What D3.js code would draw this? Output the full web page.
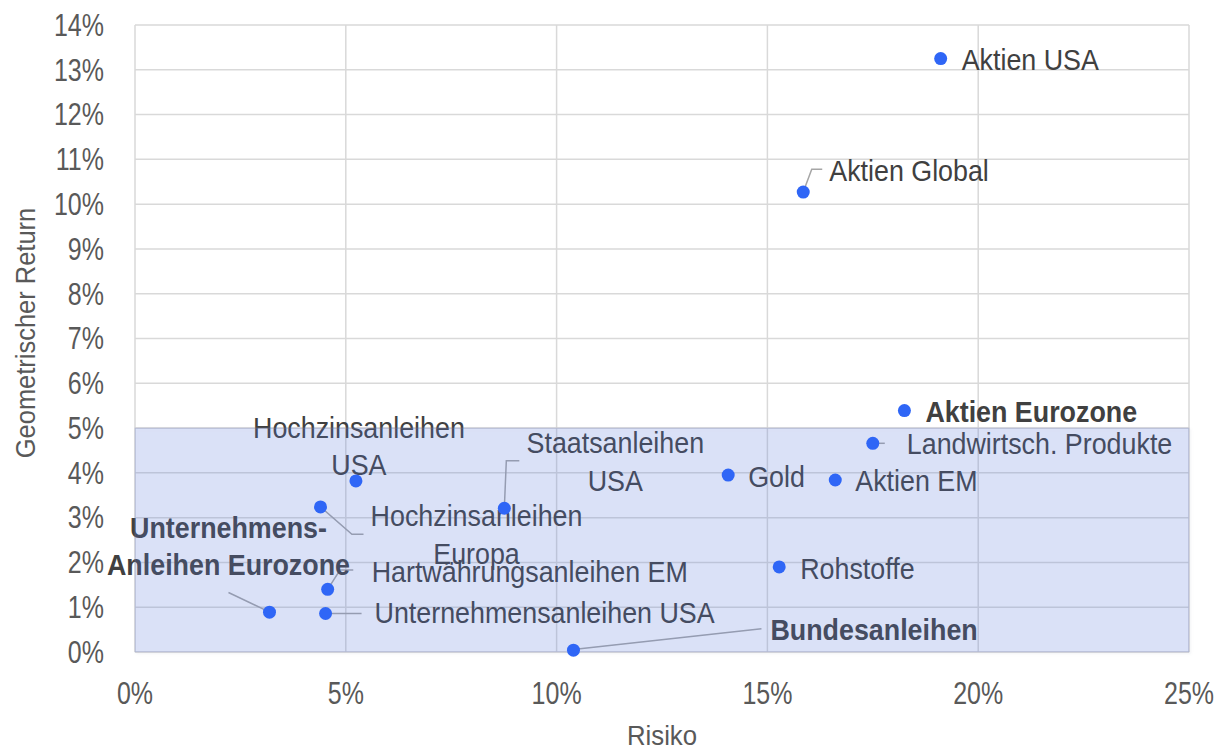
<!DOCTYPE html>
<html>
<head>
<meta charset="utf-8">
<script src="https://cdn.jsdelivr.net/npm/d3@7"></script>
<style>
  html, body { margin: 0; padding: 0; background: #fff; }
  svg { display: block; font-family: "Liberation Sans", Arial, sans-serif; }
</style>
</head>
<body>
<svg id="chart" width="1218" height="751"></svg>
<script>
// --- data ---
const assets = [
  'Aktien USA', 'Aktien Global', 'Aktien Eurozone', 'Landwirtsch. Produkte', 'Gold',
  'Aktien EM', 'Rohstoffe', 'Bundesanleihen', 'Staatsanleihen USA', 'Hochzinsanleihen USA',
  'Hochzinsanleihen Europa', 'Hartwährungsanleihen EM', 'Unternehmensanleihen USA',
  'Unternehmensanleihen Eurozone'
];
const risk = [0.1911, 0.1585, 0.1825, 0.1750, 0.1407, 0.1661, 0.1528, 0.1040, 0.0876, 0.0524,
  0.0440, 0.0457, 0.0452, 0.0319];
const geoReturn = [0.1325, 0.1027, 0.0539, 0.0466, 0.0395, 0.0384, 0.0190, 0.0004, 0.0321, 0.0382,
  0.0324, 0.0140, 0.0086, 0.0089];
const xTicks = [0, 0.05, 0.10, 0.15, 0.20, 0.25];
const yTicks = [0, 0.01, 0.02, 0.03, 0.04, 0.05, 0.06, 0.07, 0.08, 0.09, 0.10, 0.11, 0.12, 0.13, 0.14];
const zoneRisk = [0, 0.25];
const zoneReturn = [0, 0.05];

// label placement relative to each dot (pixels), kept apart from the data
const labelLayout = {
  'Aktien USA': { dx: 21, dy: 11, anchor: 'start', lines: ['Aktien USA'] },
  'Aktien Global': { dx: 26, dy: -11, anchor: 'start', lines: ['Aktien Global'], leader: [[0, 0], [8.5, -22.7], [19, -22.7]] },
  'Aktien Eurozone': { dx: 21, dy: 11, anchor: 'start', lines: ['Aktien Eurozone'], bold: true },
  'Landwirtsch. Produkte': { dx: 34, dy: 11, anchor: 'start', lines: ['Landwirtsch. Produkte'], leader: [[0, 0], [12, 0]] },
  'Gold': { dx: 20, dy: 12, anchor: 'start', lines: ['Gold'] },
  'Aktien EM': { dx: 20, dy: 11, anchor: 'start', lines: ['Aktien EM'] },
  'Rohstoffe': { dx: 21, dy: 12, anchor: 'start', lines: ['Rohstoffe'] },
  'Bundesanleihen': { dx: 197, dy: -10, anchor: 'start', lines: ['Bundesanleihen'], bold: true, leader: [[2, -1], [188, -21.5]] },
  'Staatsanleihen USA': { dx: 111, dy: -55, anchor: 'middle', lines: ['Staatsanleihen', 'USA'], leader: [[0, 0], [2, -47.6], [15, -47.6]] },
  'Hochzinsanleihen USA': { dx: 3, dy: -43.4, anchor: 'middle', lines: ['Hochzinsanleihen', 'USA'] },
  'Hochzinsanleihen Europa': { dx: 156, dy: 19.5, anchor: 'middle', lines: ['Hochzinsanleihen', 'Europa'], leader: [[0, 0], [31.4, 27.3], [43, 27.3]] },
  'Hartwährungsanleihen EM': { dx: 44, dy: -7.6, anchor: 'start', lines: ['Hartwährungsanleihen EM'], leader: [[0, 0], [12.3, -19.3], [25.6, -19.3]] },
  'Unternehmensanleihen USA': { dx: 49, dy: 10, anchor: 'start', lines: ['Unternehmensanleihen USA'], leader: [[0, 0], [36, 0]] },
  'Unternehmensanleihen Eurozone': { dx: -41, dy: -74.6, anchor: 'middle', lines: ['Unternehmens-', 'Anleihen Eurozone'], bold: true, leader: [[-4, -2], [-41, -19.6]] }
};

const margin = { top: 25, right: 29, bottom: 99, left: 135 };
const svg = d3.select('#chart');
const width = +svg.attr('width') - margin.left - margin.right;
const height = +svg.attr('height') - margin.top - margin.bottom;

const xScale = d3.scaleLinear().domain([0, 0.25]).range([margin.left, margin.left + width]);
const yScale = d3.scaleLinear().domain([0, 0.14]).range([margin.top + height, margin.top]);
const pct = d3.format('.0%');

const axisFont = 30.5, axisSx = 0.82;
const labelFont = 29.5, labelSx = 0.91;

// soft shadow for the shaded zone
const defs = svg.append('defs');
const shadow = defs.append('filter').attr('id', 'zone-shadow')
  .attr('x', '-2%').attr('y', '-2%').attr('width', '104%').attr('height', '106%');
shadow.append('feDropShadow')
  .attr('dx', 1.5).attr('dy', 1.5).attr('stdDeviation', 1)
  .attr('flood-color', '#8088a0').attr('flood-opacity', 0.35);

// gridlines
const grid = svg.append('g').attr('class', 'grid');
grid.selectAll('line.h').data(yTicks).enter().append('line')
  .attr('class', 'h')
  .attr('x1', xScale(0)).attr('x2', xScale(0.25))
  .attr('y1', d => yScale(d)).attr('y2', d => yScale(d))
  .attr('stroke', '#d9d9d9').attr('stroke-width', 1.5);
grid.selectAll('line.v').data(xTicks).enter().append('line')
  .attr('class', 'v')
  .attr('y1', yScale(0)).attr('y2', yScale(0.14))
  .attr('x1', d => xScale(d)).attr('x2', d => xScale(d))
  .attr('stroke', '#d9d9d9').attr('stroke-width', 1.5);

// tick labels
svg.append('g').selectAll('text').data(yTicks).enter().append('text')
  .attr('transform', d => `translate(104,${yScale(d) + 10.8}) scale(${axisSx},1)`)
  .attr('text-anchor', 'end')
  .attr('font-size', axisFont)
  .attr('fill', '#595959')
  .text(d => pct(d));

svg.append('g').selectAll('text').data(xTicks).enter().append('text')
  .attr('transform', d => `translate(${xScale(d)},${yScale(0) + 52}) scale(${axisSx},1)`)
  .attr('text-anchor', 'middle')
  .attr('font-size', axisFont)
  .attr('fill', '#595959')
  .text(d => pct(d));

// axis titles
svg.append('text')
  .attr('transform', `translate(${(xScale(0) + xScale(0.25)) / 2},745) scale(0.92,1)`)
  .attr('text-anchor', 'middle')
  .attr('font-size', 28)
  .attr('fill', '#595959')
  .text('Risiko');

svg.append('text')
  .attr('transform', `translate(35,333) rotate(-90) scale(0.91,1)`)
  .attr('text-anchor', 'middle')
  .attr('font-size', 28)
  .attr('fill', '#595959')
  .text('Geometrischer Return');

// data labels + leader lines (sit under the shaded zone)
const points = assets.map((name, i) => ({ name, risk: risk[i], ret: geoReturn[i] }));
const labels = svg.append('g').attr('class', 'labels');

points.forEach(p => {
  const lay = labelLayout[p.name];
  const px = xScale(p.risk), py = yScale(p.ret);
  if (lay.leader) {
    labels.append('polyline')
      .attr('points', lay.leader.map(q => `${px + q[0]},${py + q[1]}`).join(' '))
      .attr('fill', 'none')
      .attr('stroke', '#a6a6a6')
      .attr('stroke-width', 1.5);
  }
  const t = labels.append('text')
    .attr('transform', `translate(${px + lay.dx},${py + lay.dy}) scale(${labelSx},1)`)
    .attr('text-anchor', lay.anchor)
    .attr('font-size', labelFont)
    .attr('font-weight', lay.bold ? 'bold' : 'normal')
    .attr('fill', '#404040');
  lay.lines.forEach((line, k) => {
    t.append('tspan').attr('x', 0).attr('dy', k === 0 ? 0 : 37.4).text(line);
  });
});

// shaded zone (0-25% risk, 0-5% return)
svg.append('rect')
  .attr('x', xScale(zoneRisk[0]))
  .attr('y', yScale(zoneReturn[1]))
  .attr('width', xScale(zoneRisk[1]) - xScale(zoneRisk[0]))
  .attr('height', yScale(zoneReturn[0]) - yScale(zoneReturn[1]))
  .attr('fill', 'rgba(70,110,230,0.17)')
  .attr('stroke', 'rgba(140,150,185,0.3)')
  .attr('stroke-width', 1)
  .attr('filter', 'url(#zone-shadow)');

// dots
svg.append('g').selectAll('circle').data(points).enter().append('circle')
  .attr('cx', d => xScale(d.risk))
  .attr('cy', d => yScale(d.ret))
  .attr('r', 6.5)
  .attr('fill', '#2f66f6');
</script>
</body>
</html>
